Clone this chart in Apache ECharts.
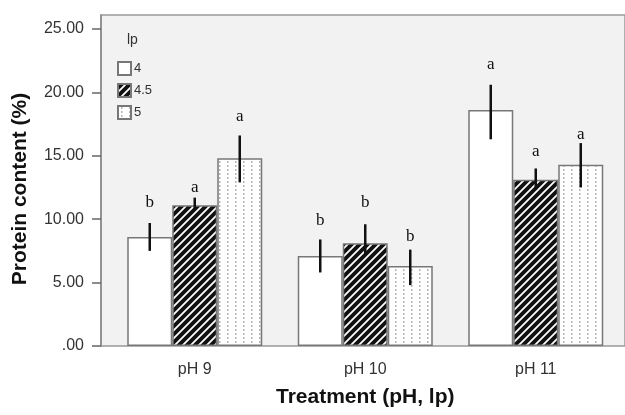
<!DOCTYPE html>
<html>
<head>
<meta charset="utf-8">
<script src="https://cdn.jsdelivr.net/npm/echarts@6/dist/echarts.min.js"></script>
<style>
  html, body { margin: 0; padding: 0; background: #fff; }
  #chart { width: 625px; height: 415px; }
</style>
</head>
<body>
<div id="chart"></div>
<script>
  // categories and bar heights
  var categories = ['pH 9', 'pH 10', 'pH 11'];
  var lpNames = ['4', '4.5', '5'];
  var lp4 = [8.6, 7.1, 18.6];
  var lp45 = [11.1, 8.1, 13.1];
  var lp5 = [14.8, 6.3, 14.3];
  // error bars [low, high]
  var lp4Err = [[7.5, 9.7], [5.8, 8.4], [16.3, 20.6]];
  var lp45Err = [[10.7, 11.7], [7.2, 9.6], [12.3, 14.0]];
  var lp5Err = [[12.9, 16.6], [4.8, 7.6], [12.5, 16.0]];
  // significance letters and the height they sit at
  var lp4Letters = ['b', 'b', 'a'];
  var lp45Letters = ['a', 'b', 'a'];
  var lp5Letters = ['a', 'b', 'a'];
  var lp4LetterAt = [11.3, 9.9, 22.2];
  var lp45LetterAt = [12.5, 11.3, 15.3];
  var lp5LetterAt = [18.1, 8.6, 16.7];
  var yTicks = [0, 5, 10, 15, 20, 25];

  var FONT = '"Liberation Sans", Arial, sans-serif';

  // fill patterns
  function hatchPattern() {
    var c = document.createElement('canvas');
    c.width = 8; c.height = 8;
    var g = c.getContext('2d');
    g.fillStyle = '#111';
    g.fillRect(0, 0, 8, 8);
    g.strokeStyle = '#fff';
    g.lineWidth = 1.8;
    g.beginPath();
    g.moveTo(-2, 10); g.lineTo(10, -2);
    g.moveTo(-6, 6); g.lineTo(6, -6);
    g.moveTo(2, 14); g.lineTo(14, 2);
    g.stroke();
    return c;
  }
  function dotPattern() {
    var c = document.createElement('canvas');
    c.width = 8; c.height = 4;
    var g = c.getContext('2d');
    g.fillStyle = '#fff';
    g.fillRect(0, 0, 8, 4);
    g.fillStyle = '#b5b5b5';
    g.fillRect(3, 1, 1.5, 2);
    return c;
  }

  var fills = [
    '#ffffff',
    { image: hatchPattern(), repeat: 'repeat' },
    { image: dotPattern(), repeat: 'repeat' }
  ];
  var values = [lp4, lp45, lp5];
  var errs = [lp4Err, lp45Err, lp5Err];
  var letters = [lp4Letters, lp45Letters, lp5Letters];
  var letterAt = [lp4LetterAt, lp45LetterAt, lp5LetterAt];
  var BAR_W = 45;

  var series = [];
  lpNames.forEach(function (name, i) {
    series.push({
      name: name,
      type: 'bar',
      xAxisIndex: 1,
      yAxisIndex: 1,
      barWidth: BAR_W,
      barGap: '0%',
      data: values[i],
      itemStyle: { color: fills[i], borderColor: '#777', borderWidth: 1.5 },
      emphasis: { disabled: true },
      z: 2
    });
  });
  lpNames.forEach(function (name, i) {
    var items = categories.map(function (c, k) {
      return [k, errs[i][k][0], errs[i][k][1], letterAt[i][k], letters[i][k]];
    });
    series.push({
      type: 'custom',
      xAxisIndex: 1,
      yAxisIndex: 1,
      z: 5,
      silent: true,
      data: items,
      renderItem: function (params, api) {
        var k = api.value(0);
        var off = (i - 1) * BAR_W;
        var lo = api.coord([k, api.value(1)]);
        var hi = api.coord([k, api.value(2)]);
        var lt = api.coord([k, api.value(3)]);
        return {
          type: 'group',
          children: [
            {
              type: 'line',
              shape: { x1: lo[0] + off, y1: lo[1], x2: hi[0] + off, y2: hi[1] },
              style: { stroke: '#111', lineWidth: 2.5 }
            },
            {
              type: 'text',
              x: lt[0] + off,
              y: lt[1],
              style: {
                text: items[params.dataIndex][4],
                fill: '#111',
                font: '17px "Liberation Serif", "DejaVu Serif", serif',
                align: 'center',
                verticalAlign: 'middle'
              }
            }
          ]
        };
      }
    });
  });

  var chart = echarts.init(document.getElementById('chart'));
  chart.setOption({
    animation: false,
    backgroundColor: '#fff',
    textStyle: { fontFamily: FONT },
    graphic: [{
      type: 'text', left: 127, top: 33,
      style: { text: 'lp', font: '14px ' + FONT, fill: '#333' }
    }],
    legend: {
      data: lpNames,
      orient: 'vertical',
      left: 117,
      top: 61,
      icon: 'rect',
      itemWidth: 13,
      itemHeight: 13,
      itemGap: 7,
      padding: 0,
      textStyle: { fontSize: 13, color: '#333', padding: [0, 0, 0, -2] },
      selectedMode: false
    },
    grid: [
      { left: 101, top: 15, right: -10, bottom: 69, show: true,
        backgroundColor: '#f2f2f2', borderColor: '#999', borderWidth: 1.5 },
      { left: 109.5, top: 15, width: 511.5, bottom: 69 }
    ],
    xAxis: [
      { gridIndex: 0, type: 'value', min: 0, max: 1, show: false },
      {
        gridIndex: 1,
        type: 'category',
        data: categories,
        axisLine: { show: false },
        axisTick: { alignWithLabel: true, length: 9, lineStyle: { color: '#666', width: 1.5 } },
        axisLabel: { fontSize: 16, color: '#333', margin: 16 },
        name: 'Treatment (pH, lp)',
        nameLocation: 'middle',
        nameGap: 41,
        nameTextStyle: { fontSize: 21, fontWeight: 'bold', color: '#111' }
      }
    ],
    yAxis: [
      {
        gridIndex: 0,
        type: 'value',
        min: 0,
        max: 26.1,
        axisLine: { show: true, lineStyle: { color: '#888', width: 1.5 } },
        axisTick: { show: true, customValues: yTicks, length: 9, lineStyle: { color: '#666', width: 1.5 } },
        axisLabel: {
          customValues: yTicks,
          margin: 17,
          fontSize: 16,
          color: '#333',
          formatter: function (v) { return v === 0 ? '.00' : v.toFixed(2); }
        },
        splitLine: { show: false },
        name: 'Protein content (%)',
        nameLocation: 'middle',
        nameGap: 70,
        nameTextStyle: { fontSize: 21, fontWeight: 'bold', color: '#111', padding: [0, 17, 0, 0] }
      },
      { gridIndex: 1, type: 'value', min: 0, max: 26.1, show: false }
    ],
    series: series
  });
  window.addEventListener('resize', function () {
    chart.resize();
  });
</script>
</body>
</html>
